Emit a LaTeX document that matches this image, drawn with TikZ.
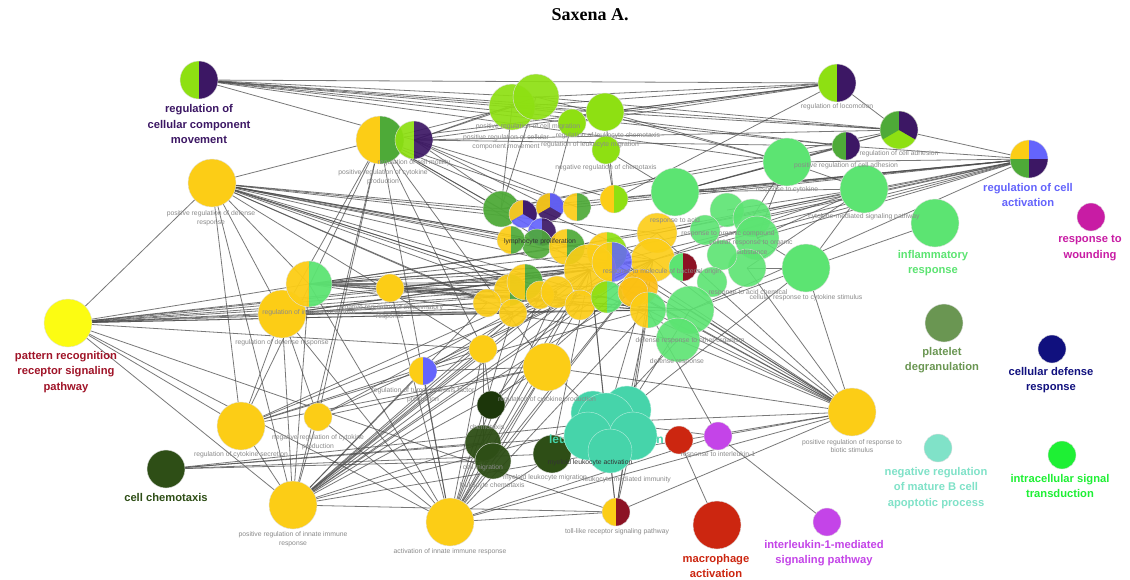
\documentclass[tikz,border=0pt]{standalone}
\usepackage{fontspec}
\setmainfont{Liberation Sans}
\newfontfamily\titlefont{Liberation Serif}
\pgfdeclarelayer{back}
\pgfdeclarelayer{bg}
\pgfsetlayers{back,bg,main}
\definecolor{gold}{HTML}{FCCD16}
\definecolor{lime}{HTML}{8EE012}
\definecolor{dpurp}{HTML}{3C1764}
\definecolor{mgreen}{HTML}{4EAA38}
\definecolor{lgreen}{HTML}{5CE472}
\definecolor{byellow}{HTML}{FCFC12}
\definecolor{dred}{HTML}{8C1224}
\definecolor{tealc}{HTML}{46D4AA}
\definecolor{dgreen}{HTML}{2E4E16}
\definecolor{vdgreen}{HTML}{1C360A}
\definecolor{mred}{HTML}{CC2610}
\definecolor{vio}{HTML}{C444E8}
\definecolor{peri}{HTML}{6464FC}
\definecolor{mag}{HTML}{C81CA4}
\definecolor{olv}{HTML}{6A9652}
\definecolor{navyc}{HTML}{10107E}
\definecolor{pteal}{HTML}{80E2C8}
\definecolor{bgreen}{HTML}{1EF034}
\definecolor{prlab}{HTML}{A01428}
\definecolor{greylab}{HTML}{8A8A8A}
\tikzset{
 nd/.style={circle,inner sep=0pt,minimum size=#1,draw=black!12,line width=0.4pt},
 half/.style 2 args={path picture={
   \fill[#1] (path picture bounding box.south west) rectangle (path picture bounding box.north);
   \fill[#2] (path picture bounding box.south) rectangle (path picture bounding box.north east);}},
 quad/.style n args={4}{path picture={
   \fill[#1] (path picture bounding box.west) rectangle (path picture bounding box.north);
   \fill[#2] (path picture bounding box.center) rectangle (path picture bounding box.north east);
   \fill[#3] (path picture bounding box.south west) rectangle (path picture bounding box.center);
   \fill[#4] (path picture bounding box.south) rectangle (path picture bounding box.east);}},
 tri/.style n args={3}{fill=#3,path picture={
   \fill[#1] (path picture bounding box.center) -- +(90:50pt) -- +(150:50pt) -- +(210:50pt) -- cycle;
   \fill[#2] (path picture bounding box.center) -- +(90:50pt) -- +(30:50pt) -- +(-30:50pt) -- cycle;}},
 edge/.style={draw=black!70,line width=0.8pt,opacity=0.75},
 lab/.style={font=\fontsize{6.8}{8.6}\selectfont,text=greylab,align=center,inner sep=0pt},
 dlab/.style={font=\fontsize{6.8}{8.6}\selectfont,text=black!80,align=center,inner sep=0pt},
 big/.style={font=\fontsize{11.2}{15.6}\selectfont\bfseries,align=center,inner sep=0pt},
}
\begin{document}
\begin{tikzpicture}[x=1pt,y=-1pt]
\useasboundingbox (0,0) rectangle (1130,579);
\begin{pgfonlayer}{back}
\fill[white] (0,0) rectangle (1130,579);
\end{pgfonlayer}
\node[font=\titlefont\bfseries\fontsize{18}{21}\selectfont,inner sep=0pt] (title) at (590,15) {Saxena A.};

% ---------- peripheral nodes ----------
\node[nd=38pt,half={lime}{dpurp}] (rccm) at (199,80) {};
\node[nd=48pt,half={gold}{mgreen}] (pcp) at (380,140) {};
\node[nd=38pt,half={lime}{dpurp},fill opacity=0.92] (rcm) at (414,140) {};
\node[nd=48pt,fill=gold] (prdr) at (212,183) {};
\node[nd=46pt,fill=lime,fill opacity=0.92] (m1) at (512,107) {};
\node[nd=46pt,fill=lime,fill opacity=0.92] (m2) at (536,97) {};
\node[nd=28pt,fill=lime] (m3) at (572,123) {};
\node[nd=38pt,fill=lime] (m4) at (605,112) {};
\node[nd=28pt,fill=lime] (m5) at (606,150) {};
\node[nd=38pt,half={lime}{dpurp}] (rloc) at (837,83) {};
\node[nd=38pt,tri={mgreen}{dpurp}{lime}] (rca) at (899,130) {};
\node[nd=28pt,half={mgreen}{dpurp}] (prca) at (846,146) {};
\node[nd=38pt,quad={gold}{peri}{mgreen}{dpurp}] (rcact) at (1029,159) {};
\node[nd=28pt,fill=mag] (wound) at (1091,217) {};
\node[nd=48pt,fill=lgreen] (infl) at (935,223) {};
\node[nd=48pt,fill=lgreen] (lg1) at (787,162) {};
\node[nd=48pt,fill=lgreen] (lg2) at (864,189) {};
\node[nd=48pt,fill=lgreen] (lg3) at (806,268) {};
\node[nd=38pt,fill=olv] (platelet) at (944,323) {};
\node[nd=28pt,fill=navyc] (celldef) at (1052,349) {};
\node[nd=48pt,fill=gold] (prrbs) at (852,412) {};
\node[nd=28pt,fill=pteal] (negB) at (938,448) {};
\node[nd=28pt,fill=bgreen] (intra) at (1062,455) {};
\node[nd=28pt,fill=vio] (il1) at (827,522) {};
\node[nd=48pt,fill=mred] (macro) at (717,525) {};
\node[nd=28pt,half={gold}{dred}] (tlr) at (616,512) {};
\node[nd=48pt,fill=gold] (ail) at (450,522) {};
\node[nd=48pt,fill=gold] (pril) at (293,505) {};
\node[nd=38pt,fill=dgreen] (cchem) at (166,469) {};
\node[nd=48pt,fill=gold] (rcs) at (241,426) {};
\node[nd=28pt,fill=gold] (nrcp) at (318,417) {};
\node[nd=48pt,fill=byellow] (prr) at (68,323) {};
\node[nd=48pt,fill=gold] (rdr) at (282,314) {};
\node[nd=46pt,half={gold}{lgreen},fill opacity=0.95] (rir) at (309,284) {};
\node[nd=28pt,fill=gold] (nrir) at (390,288) {};
\node[nd=28pt,half={gold}{peri}] (rtnf) at (423,371) {};
\node[nd=28pt,fill=vio] (il1resp) at (718,436) {};
\node[nd=28pt,fill=mred] (redimm) at (679,440) {};

% ---------- dark green cluster ----------
\node[nd=28pt,fill=vdgreen] (dg1) at (491,405) {};
\node[nd=36pt,fill=dgreen,fill opacity=0.95] (dg2) at (483,443) {};
\node[nd=36pt,fill=dgreen,fill opacity=0.95] (dg3) at (493,461) {};
\node[nd=38pt,fill=dgreen] (dg4) at (552,454) {};
\node[font=\fontsize{12}{14}\selectfont\bfseries,text=dgreen,anchor=west,inner sep=0pt] (dgl) at (538,450) {leukocyte migration};
\node[font=\fontsize{12}{14}\selectfont\bfseries,text=tealc,anchor=east,inner sep=0pt] (tl) at (664,440) {leukocyte activation};

% ---------- teal cluster ----------
\node[nd=48pt,fill=tealc,draw=white!60!tealc] (t2) at (627,410) {};
\node[nd=44pt,fill=tealc,draw=white!60!tealc] (t6) at (593,413) {};
\node[nd=58pt,fill=tealc,draw=white!60!tealc] (t1) at (606,422) {};
\node[nd=48pt,fill=tealc,draw=white!60!tealc] (t3) at (588,436) {};
\node[nd=48pt,fill=tealc,draw=white!60!tealc] (t4) at (633,436) {};
\node[nd=44pt,fill=tealc,draw=white!60!tealc] (t5) at (610,451) {};

% ---------- central cluster ----------
\node[nd=48pt,fill=lgreen] (c36) at (675,192) {};
\node[nd=36pt,fill=mgreen,fill opacity=0.95] (c1) at (501,209) {};
\node[nd=28pt,tri={gold}{dpurp}{peri},fill opacity=0.92] (c2) at (523,214) {};
\node[nd=28pt,tri={gold}{peri}{dpurp},fill opacity=0.92] (c3) at (550,207) {};
\node[nd=28pt,half={peri}{dpurp},fill opacity=0.92] (c4) at (542,232) {};
\node[nd=28pt,half={gold}{mgreen},fill opacity=0.92] (c5) at (577,207) {};
\node[nd=28pt,half={gold}{lime}] (c6) at (614,199) {};
\node[nd=30pt,fill=mgreen,fill opacity=0.9] (c8) at (537,244) {};
\node[nd=28pt,half={gold}{mgreen},fill opacity=0.92] (c7) at (511,240) {};
\node[nd=36pt,half={gold}{mgreen},fill opacity=0.92] (c9) at (567,247) {};
\node[nd=34pt,fill=lgreen,fill opacity=0.9] (c32) at (727,210) {};
\node[nd=38pt,fill=lgreen,fill opacity=0.9] (c33) at (752,218) {};
\node[nd=44pt,fill=lgreen,fill opacity=0.9] (c34) at (757,238) {};
\node[nd=38pt,fill=lgreen,fill opacity=0.9] (c35) at (747,268) {};
\node[nd=30pt,fill=lgreen,fill opacity=0.9] (c31) at (705,230) {};
\node[nd=30pt,fill=lgreen,fill opacity=0.9] (c38) at (722,255) {};
\node[nd=30pt,fill=lgreen,fill opacity=0.9] (c37) at (712,282) {};
\node[nd=40pt,half={gold}{lime},fill opacity=0.92] (c10) at (607,252) {};
\node[nd=40pt,fill=gold,fill opacity=0.9] (c13) at (657,233) {};
\node[nd=44pt,fill=gold,fill opacity=0.9] (c14) at (653,260) {};
\node[nd=52pt,fill=gold,fill opacity=0.9] (c11) at (590,270) {};
\node[nd=40pt,half={gold}{peri},fill opacity=0.85] (c12) at (612,262) {};
\node[nd=28pt,half={lgreen}{dred}] (c16) at (683,267) {};
\node[nd=36pt,fill=gold!80!orange,fill opacity=0.9] (c15) at (640,287) {};
\node[nd=32pt,half={gold}{mgreen},fill opacity=0.92] (c17) at (510,290) {};
\node[nd=36pt,half={gold}{mgreen},fill opacity=0.92] (c18) at (525,282) {};
\node[nd=28pt,fill=gold,fill opacity=0.92] (c19) at (487,303) {};
\node[nd=28pt,fill=gold,fill opacity=0.92] (c20) at (513,313) {};
\node[nd=28pt,fill=gold,fill opacity=0.92] (c21) at (540,295) {};
\node[nd=32pt,fill=gold,fill opacity=0.92] (c22) at (557,292) {};
\node[nd=30pt,fill=gold,fill opacity=0.92] (c23) at (580,305) {};
\node[nd=32pt,half={lime}{lgreen},fill opacity=0.92] (c24) at (607,297) {};
\node[nd=30pt,fill=gold!85!orange,fill opacity=0.92] (c25) at (633,292) {};
\node[nd=48pt,fill=lgreen,fill opacity=0.9] (c27) at (690,310) {};
\node[nd=44pt,fill=lgreen,fill opacity=0.9] (c28) at (678,340) {};
\node[nd=36pt,half={gold}{lgreen},fill opacity=0.92] (c26) at (648,310) {};
\node[nd=28pt,fill=gold] (c29) at (483,349) {};
\node[nd=48pt,fill=gold] (c30) at (547,367) {};

% ---------- edges ----------
\begin{pgfonlayer}{bg}
\foreach \a/\b in {rccm/rloc,rccm/rca,rccm/m2,rccm/m1,rccm/m4,rccm/rcm,rccm/m3,rccm/prca,rccm/lg1,
 rloc/m1,rloc/m2,rloc/m4,rloc/rcm,rloc/rca,rloc/m3,rloc/c6,
 rca/rcact,rca/m1,rca/m2,rca/c36,rca/lg1,rca/rcm,rca/c1,
 prca/rcact,prca/m1,prca/rcm,prca/c1,prca/c36,
 rcact/c36,rcact/lg1,rcact/c13,rcact/c14,rcact/c34,rcact/c27,rcact/c10,rcact/c6,rcact/c3,rcact/c5,rcact/c33,rcact/c12,rcact/c1,rcact/c9,
 m1/rcm,m1/c1,m2/c1,m4/c6,m5/c6,m5/c36,m3/c3,m2/rcm,m1/pcp,
 prdr/pcp,prdr/prr,prdr/c1,prdr/c2,prdr/c7,prdr/c9,prdr/c11,prdr/c13,prdr/c14,prdr/c17,prdr/c18,prdr/c19,prdr/c22,prdr/c26,prdr/c29,prdr/rir,prdr/rdr,prdr/pril,prdr/rcs,prdr/c20,prdr/c23,prdr/c10,prdr/c12,
 pcp/c1,pcp/c9,pcp/c11,pcp/rdr,pcp/rcs,pcp/ail,pcp/pril,pcp/nrcp,pcp/c29,pcp/c30,pcp/c14,pcp/rloc,pcp/c5,
 rcm/c3,rcm/c6,rcm/c5,rcm/c2,
 prr/c11,prr/c14,prr/c17,prr/c19,prr/c20,prr/c26,prr/rir,prr/rdr,prr/pril,prr/ail,prr/rcs,prr/tlr,prr/c29,prr/c22,prr/c18,prr/c23,
 rir/c10,rir/c11,rir/c13,rir/c14,rir/c26,rir/c27,rir/c22,rir/c18,rir/pril,rir/ail,rir/c12,rir/c9,rir/c28,rir/c24,rir/c15,
 rdr/c11,rdr/c14,rdr/c20,rdr/c22,rdr/c26,rdr/ail,rdr/pril,rdr/rcs,rdr/c27,rdr/nrcp,rdr/c24,
 nrir/c11,nrir/c14,nrir/c22,nrir/c26,nrir/ail,nrir/c27,
 rtnf/c11,rtnf/c14,rtnf/c30,rtnf/pril,rtnf/rcs,rtnf/ail,rtnf/c26,
 rcs/c11,rcs/c14,rcs/c30,rcs/pril,rcs/c29,
 cchem/dg2,cchem/dg3,cchem/dg4,cchem/t3,cchem/t1,
 nrcp/c11,nrcp/c14,nrcp/pril,nrcp/ail,nrcp/c30,
 pril/c11,pril/c13,pril/c14,pril/c19,pril/c20,pril/c29,pril/c30,pril/t1,pril/tlr,pril/prrbs,pril/dg2,pril/c23,pril/c25,pril/c22,pril/c21,
 ail/c11,ail/c14,ail/c20,ail/c29,ail/c30,ail/t1,ail/tlr,ail/prrbs,ail/dg1,ail/dg3,ail/il1resp,ail/c23,ail/c26,ail/c22,ail/c21,
 tlr/c11,tlr/c14,tlr/t1,tlr/prrbs,tlr/c26,tlr/t4,
 macro/redimm,il1/il1resp,il1resp/prrbs,il1resp/c26,il1resp/t1,
 prrbs/c13,prrbs/c14,prrbs/c26,prrbs/c27,prrbs/c28,prrbs/c11,prrbs/c10,prrbs/t1,prrbs/lg3,prrbs/c30,prrbs/c35,prrbs/c12,prrbs/c25,prrbs/c15,prrbs/c24,
 lg1/lg2,lg1/c36,lg1/c33,lg1/m4,lg1/m2,lg1/c34,
 lg2/lg3,lg2/c34,lg2/c36,lg2/c32,lg2/c35,lg2/c13,lg2/c14,
 lg3/c34,lg3/infl,lg3/c27,lg3/c35,lg3/t2,
 dg1/c11,dg1/c14,dg2/c29,dg3/c30,dg4/c11,dg4/t1,dg2/c11,dg3/c14,dg1/c29,
 t1/c11,t1/c14,t2/c26,t3/c28,t1/c30,t2/c27}
 \draw[edge] (\a.center) -- (\b.center);
\end{pgfonlayer}

% ---------- small labels ----------
\node[lab] (lrcm) at (414,163) {regulation of cell motility};
\node[lab] (lpcp) at (383,177) {positive regulation of cytokine\\production};
\node[lab] (lprdr) at (211,218) {positive regulation of defense\\response};
\node[lab] (lm1) at (528,127) {positive regulation of cell migration};
\node[lab] (lm2) at (506,142) {positive regulation of cellular\\component movement};
\node[lab] (lm4) at (608,136) {regulation of leukocyte chemotaxis};
\node[lab] (lm3) at (590,145) {regulation of leukocyte migration};
\node[lab] (lm5) at (606,168) {negative regulation of chemotaxis};
\node[lab] (lrloc) at (837,107) {regulation of locomotion};
\node[lab] (lrca) at (899,154) {regulation of cell adhesion};
\node[lab] (lprca) at (846,166) {positive regulation of cell adhesion};
\node[lab] (llg1) at (787,190) {response to cytokine};
\node[lab] (llg2) at (864,217) {cytokine-mediated signaling pathway};
\node[lab] (l1) at (675,221) {response to acid};
\node[lab] (l2) at (728,234) {response to organic compound};
\node[lab] (l3) at (751,243) {cellular response to organic};
\node[lab] (l4) at (752,252) {substance};
\node[lab] (l9) at (662,272) {response to molecule of bacterial origin};
\node[lab] (l5) at (748,293) {response to acid chemical};
\node[lab] (l6) at (806,298) {cellular response to cytokine stimulus};
\node[lab] (l7) at (690,341) {defense response to other organism};
\node[lab] (l8) at (677,362) {defense response};
\node[dlab] (l10) at (540,242) {lymphocyte proliferation};
\node[lab] (lrir) at (309,313) {regulation of immune response};
\node[lab] (lrdr) at (282,343) {regulation of defense response};
\node[lab] (lnrir) at (390,312) {negative regulation of inflammatory\\response};
\node[lab] (lrtnf) at (423,395) {regulation of tumor necrosis factor\\production};
\node[lab] (lc30) at (547,400) {regulation of cytokine production};
\node[lab] (lrcs) at (241,455) {regulation of cytokine secretion};
\node[lab] (lnrcp) at (318,442) {negative regulation of cytokine\\production};
\node[lab] (lpril) at (293,539) {positive regulation of innate immune\\response};
\node[lab] (lail) at (450,552) {activation of innate immune response};
\node[lab] (ltlr) at (617,532) {toll-like receptor signaling pathway};
\node[lab] (lprrbs) at (852,446) {positive regulation of response to\\biotic stimulus};
\node[lab] (lil1r) at (718,455) {response to interleukin-1};
\node[lab] (ldg1) at (487,427) {chemotaxis};
\node[lab] (ldg2) at (483,468) {cell migration};
\node[lab] (ldg3) at (492,486) {leukocyte chemotaxis};
\node[lab] (ldg4) at (545,478) {myeloid leukocyte migration};
\node[dlab] (lt1) at (590,463) {myeloid leukocyte activation};
\node[lab] (lt2) at (627,480) {leukocyte mediated immunity};

% ---------- big labels ----------
\node[big,text=dpurp] (Lrccm) at (199,124) {regulation of\\cellular component\\movement};
\node[big,text=peri] (Lrcact) at (1028,195) {regulation of cell\\activation};
\node[big,text=mag] (Lwound) at (1090,248) {response to\\wounding};
\node[big,text=lgreen] (Linfl) at (933,263) {inflammatory\\response};
\node[big,text=olv] (Lplat) at (942,360) {platelet\\degranulation};
\node[big,text=navyc] (Lcd) at (1051,380) {cellular defense\\response};
\node[big,text=pteal] (LnegB) at (936,488) {negative regulation\\of mature B cell\\apoptotic process};
\node[big,text=bgreen] (Lintra) at (1060,486) {intracellular signal\\transduction};
\node[big,text=vio] (Lil1) at (824,553) {interleukin-1-mediated\\signaling pathway};
\node[big,text=mred] (Lmacro) at (716,566) {macrophage\\activation};
\node[big,text=dgreen] (Lcchem) at (166,497) {cell chemotaxis};
\node[big,text=prlab] (Lprr) at (66,372) {pattern recognition\\receptor signaling\\pathway};
\end{tikzpicture}
\end{document}
